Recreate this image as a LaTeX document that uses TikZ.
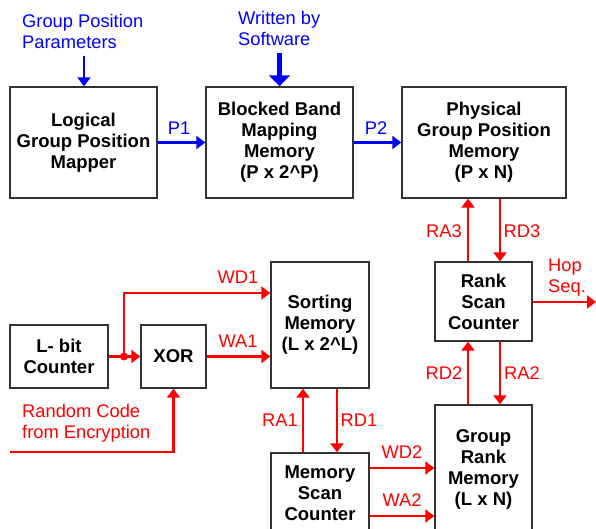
\documentclass[tikz,border=0pt]{standalone}
\usepackage{fontspec}
\setmainfont{Liberation Sans}
\usetikzlibrary{arrows.meta}
\definecolor{sigred}{RGB}{255,0,0}
\definecolor{sigblue}{RGB}{0,0,255}
\begin{document}
\begin{tikzpicture}[x=1pt,y=-1pt,
  box/.style={draw=black!80, line width=1.4pt, fill=white, inner sep=0pt,
    align=center, font=\bfseries\fontsize{18.5}{21}\selectfont},
  lbl/.style={inner sep=0pt, font=\fontsize{18.3}{21}\selectfont, align=left},
  rlbl/.style={lbl, text=sigred},
  blbl/.style={lbl, text=sigblue},
  rsig/.style={draw=sigred, line width=2.2pt, -{Triangle[length=9pt,width=13pt]}},
  bsig/.style={draw=sigblue, line width=2.2pt, -{Triangle[length=9pt,width=13pt]}},
  bthick/.style={draw=sigblue, line width=5.5pt, -{Triangle[length=11pt,width=21pt]}}
]
\useasboundingbox (0,0) rectangle (596,529);

% top row
\node[box, minimum width=147pt, minimum height=111pt] (lg) at (83.5,142.5) {Logical\\Group Position\\Mapper};
\node[box, minimum width=147pt, minimum height=111pt] (bb) at (279.5,142.5) {Blocked Band\\Mapping\\Memory\\(P x 2\^{}P)};
\node[box, minimum width=164pt, minimum height=111pt] (pg) at (484,142.5) {Physical\\Group Position\\Memory\\(P x N)};

% lower part
\node[box, minimum width=98pt, minimum height=63pt] (lb) at (59,356.5) {L- bit\\Counter};
\node[box, minimum width=65pt, minimum height=63pt] (xr) at (173.5,356.5) {XOR};
\node[box, minimum width=98pt, minimum height=126pt] (sm) at (320,325) {Sorting\\Memory\\(L x 2\^{}L)};
\node[box, minimum width=98pt, minimum height=80pt] (ms) at (320,493) {Memory\\Scan\\Counter};
\node[box, minimum width=97pt, minimum height=79pt] (rs) at (483.5,301.5) {Rank\\Scan\\Counter};
\node[box, minimum width=97pt, minimum height=128pt] (gr) at (483.5,469) {Group\\Rank\\Memory\\(L x N)};

% blue inputs
\node[blbl, anchor=north west] (gpp) at (22,14) {Group Position\\Parameters};
\coordinate (gppend) at (84,56);
\draw[bsig] (gppend) -- (lg.north -| gppend);
\node[blbl, anchor=north west] (wbs) at (238,11) {Written by\\Software};
\coordinate (wbsend) at (279.5,53);
\draw[bthick] (wbsend) -- (bb.north);

% P1, P2
\draw[bsig] (lg.east) -- (bb.west);
\node[blbl, anchor=base] (p1) at (179,135) {P1};
\draw[bsig] (bb.east) -- (pg.west);
\node[blbl, anchor=base] (p2) at (376,135) {P2};

% RA3 / RD3
\coordinate (cxa) at (468,0);
\coordinate (cxb) at (500,0);
\draw[rsig] (rs.north -| cxa) -- (pg.south -| cxa);
\draw[rsig] (pg.south -| cxb) -- (rs.north -| cxb);
\node[rlbl, anchor=base] (ra3) at (444,237) {RA3};
\node[rlbl, anchor=base] (rd3) at (522,237) {RD3};

% RD2 / RA2
\draw[rsig] (gr.north -| cxa) -- (rs.south -| cxa);
\draw[rsig] (rs.south -| cxb) -- (gr.north -| cxb);
\node[rlbl, anchor=base] (rd2) at (444,379) {RD2};
\node[rlbl, anchor=base] (ra2) at (522,379) {RA2};

% Hop Seq.
\coordinate (hopy) at (0,302);
\coordinate (hopend) at (596,302);
\draw[rsig] (rs.east |- hopy) -- (hopend);
\node[rlbl, anchor=north west] (hop) at (548,259) {Hop\\Seq.};

% L-bit -> XOR, dot, WD1
\draw[rsig] (lb.east) -- (xr.west);
\coordinate (dot) at (124,356.5);
\fill[sigred] (dot) circle (4pt);
\coordinate (wd1y) at (0,293);
\draw[rsig] (dot) |- (sm.west |- wd1y);
\node[rlbl, anchor=base] (wd1) at (238,283) {WD1};
\draw[rsig] (xr.east) -- (sm.west |- xr.east);
\node[rlbl, anchor=base] (wa1) at (238,347) {WA1};

% Random code
\node[rlbl, anchor=north west] (rc) at (22,404) {Random Code\\from Encryption};
\coordinate (rcstart) at (10,452);
\draw[rsig] (rcstart) -| (xr.south);

% RA1 / RD1
\coordinate (cxc) at (303,0);
\coordinate (cxd) at (337,0);
\draw[rsig] (ms.north -| cxc) -- (sm.south -| cxc);
\draw[rsig] (sm.south -| cxd) -- (ms.north -| cxd);
\node[rlbl, anchor=base] (ra1) at (280,426) {RA1};
\node[rlbl, anchor=base] (rd1) at (359,426) {RD1};

% WD2 / WA2
\coordinate (wd2y) at (0,468);
\coordinate (wa2y) at (0,516);
\draw[rsig] (ms.east |- wd2y) -- (gr.west |- wd2y);
\draw[rsig] (ms.east |- wa2y) -- (gr.west |- wa2y);
\node[rlbl, anchor=base] (wd2) at (402,458) {WD2};
\node[rlbl, anchor=base] (wa2) at (402,506) {WA2};
\end{tikzpicture}
\end{document}
